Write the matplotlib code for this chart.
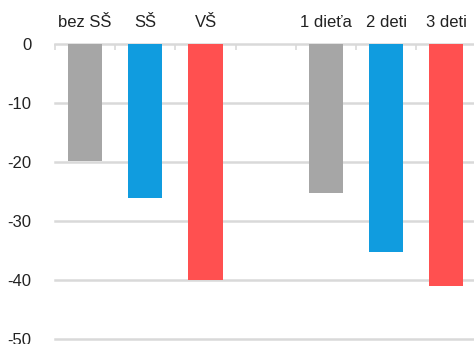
import numpy as np
import matplotlib
matplotlib.use("Agg")
import matplotlib.pyplot as plt

plt.rcParams['font.family'] = ['Liberation Sans', 'DejaVu Sans']

categories = ["bez SŠ", "SŠ", "VŠ", "", "1 dieťa", "2 deti", "3 deti"]
values = [-19.8, -26.1, -40.1, np.nan, -25.3, -35.2, -41.1]
colors = ["#a6a6a6", "#109cdf", "#ff5050", "#ffffff", "#a6a6a6", "#109cdf", "#ff5050"]
yticks = [0, -10, -20, -30, -40, -50]

fig = plt.figure(figsize=(4.74, 3.44), dpi=100)
ax = fig.add_axes([55/474, 5.3/344, 421.4/474, 294.4/344])

x = np.arange(len(categories))
ax.bar(x, values, width=0.57, color=colors, zorder=3)

ax.set_xlim(-0.5, len(categories) - 0.5)
ax.set_ylim(-50, 0)
ax.set_yticks(yticks)
ax.set_yticklabels([str(v) for v in yticks], fontsize=12, color="#222222")
ax.tick_params(axis='y', length=0, pad=17)

ax.xaxis.tick_top()
ax.set_xticks(x)
ax.set_xticklabels(categories, fontsize=12, color="#222222")
ax.tick_params(axis='x', which='major', length=0, pad=10)
ax.set_xticks(np.arange(len(categories) + 1) - 0.5, minor=True)
ax.tick_params(axis='x', which='minor', top=True, direction='in', length=4,
               width=1.2, color="#d9d9d9")

for s in ax.spines.values():
    s.set_visible(False)

for v in yticks:
    ax.axhline(v, color="#d9d9d9", linewidth=1.8, zorder=1, clip_on=False)

fig.savefig("out.png", dpi=100)
